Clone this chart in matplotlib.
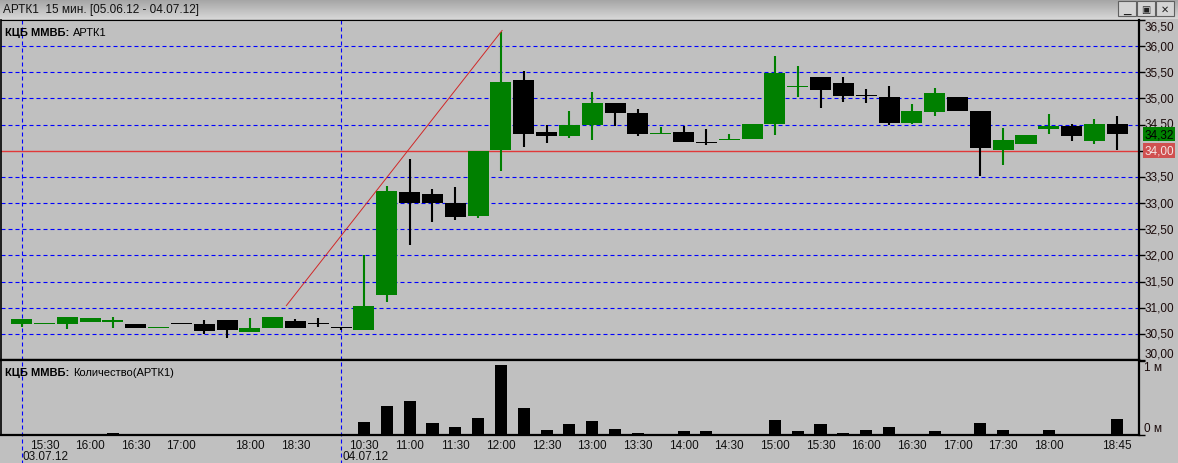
"""
QUIK-style 15 min candlestick chart for APTK1 with volume panel.
"""

import numpy as np
import matplotlib
matplotlib.use("Agg")
import matplotlib.pyplot as plt
from matplotlib.patches import Rectangle

plt.rcParams["font.family"] = ["Liberation Sans", "DejaVu Sans"]

W, H = 1178, 464
BG = "#c0c0c0"
UP = "#008000"
DOWN = "#000000"
GRID = "#0000ff"

# candle data (one bar per 15 min, sessions without trades skipped)
opens = [30.68, 30.69, 30.68, 30.72, 30.72, 30.69, 30.61, 30.685, 30.68, 30.77,
         30.53, 30.62, 30.75, 30.695, 30.615, 30.57, 31.24, 33.22, 33.18, 33.01,
         32.76, 34.01, 35.35, 34.35, 34.28, 34.49, 34.91, 34.72, 34.33, 34.35,
         34.145, 34.21, 34.22, 34.51, 35.21, 35.41, 35.29, 35.045, 35.03, 34.53,
         34.74, 35.03, 34.76, 34.01, 34.12, 34.42, 34.47, 34.18, 34.51]
highs = [30.79, 30.715, 30.83, 30.81, 30.83, 30.69, 30.615, 30.685, 30.77, 30.77,
         30.81, 30.83, 30.79, 30.81, 30.615, 32.00, 33.33, 33.85, 33.26, 33.31,
         34.00, 36.28, 35.52, 34.50, 34.76, 35.12, 34.91, 34.79, 34.45, 34.47,
         34.41, 34.33, 34.51, 35.81, 35.62, 35.41, 35.41, 35.18, 35.24, 34.89,
         35.20, 35.03, 34.76, 34.43, 34.31, 34.70, 34.51, 34.60, 34.66]
lows = [30.64, 30.69, 30.60, 30.72, 30.62, 30.62, 30.61, 30.68, 30.50, 30.43,
        30.53, 30.62, 30.62, 30.64, 30.57, 30.57, 31.11, 32.19, 32.63, 32.67,
        32.72, 33.61, 34.07, 34.15, 34.24, 34.21, 34.47, 34.28, 34.33, 34.17,
        34.11, 34.21, 34.22, 34.31, 35.03, 34.81, 34.93, 34.91, 34.49, 34.51,
        34.66, 34.76, 33.51, 33.72, 34.12, 34.33, 34.18, 34.12, 34.01]
closes = [30.79, 30.70, 30.83, 30.81, 30.77, 30.62, 30.615, 30.68, 30.55, 30.57,
          30.62, 30.83, 30.62, 30.69, 30.61, 31.03, 33.24, 33.01, 33.01, 32.74,
          34.00, 35.31, 34.32, 34.29, 34.49, 34.91, 34.72, 34.32, 34.335, 34.17,
          34.14, 34.215, 34.51, 35.49, 35.215, 35.16, 35.04, 35.04, 34.53, 34.76,
          35.10, 34.76, 34.06, 34.20, 34.31, 34.47, 34.28, 34.51, 34.33]
# volume in millions
volumes = [0.003, 0.003, 0.014, 0.003, 0.027, 0.014, 0.003, 0.003, 0.014, 0.014,
           0.014, 0.003, 0.003, 0.003, 0.003, 0.18, 0.39, 0.46, 0.16, 0.11,
           0.23, 0.95, 0.36, 0.068, 0.15, 0.19, 0.08, 0.027, 0.005, 0.054,
           0.054, 0.005, 0.014, 0.20, 0.054, 0.15, 0.027, 0.068, 0.11, 0.005,
           0.054, 0.014, 0.16, 0.068, 0.014, 0.068, 0.014, 0.014, 0.22]

tick_pos = [1, 3, 5, 7, 10, 12, 15, 17, 19, 21, 23, 25, 27, 29, 31, 33, 35, 37,
            39, 41, 43, 45, 48]
tick_labels = ["15:30", "16:00", "16:30", "17:00", "18:00", "18:30", "10:30",
               "11:00", "11:30", "12:00", "12:30", "13:00", "13:30", "14:00",
               "14:30", "15:00", "15:30", "16:00", "16:30", "17:00", "17:30",
               "18:00", "18:45"]
day_starts = [0, 14]
day_labels = ["03.07.12", "04.07.12"]

price_levels = [30.0, 30.5, 31.0, 31.5, 32.0, 32.5, 33.0, 33.5, 34.0, 34.5,
                35.0, 35.5, 36.0, 36.5]
last_price = 34.32
ref_price = 34.00
trend_x = [11.6, 21.05]
trend_y = [31.04, 36.30]


def fig_rect(x0, y0, x1, y1):
    """Pixel box (top-left origin) -> figure fraction rect."""
    return [x0 / W, 1 - y1 / H, (x1 - x0) / W, (y1 - y0) / H]


def ru(v):
    return f"{v:.2f}".replace(".", ",")


fig = plt.figure(figsize=(W / 100, H / 100), dpi=100, facecolor=BG)

# window title bar
tb = fig.add_axes(fig_rect(0, 0, W, 20))
grad = np.linspace(0, 1, 20).reshape(-1, 1)
tb.imshow(grad, aspect="auto", cmap=matplotlib.colors.LinearSegmentedColormap.from_list(
    "tb", ["#a4a4a4", "#d6d6d6"]), extent=[0, W, 20, 0])
tb.set_xlim(0, W)
tb.set_ylim(20, 0)
tb.axis("off")
tb.text(3, 10.5, "АРТК1  15 мин. [05.06.12 - 04.07.12]", fontsize=8.5,
        va="center", ha="left", color="#101010")
for bx, glyph in zip([1118, 1137, 1156], ["▁", "▣", "✕"]):
    tb.add_patch(Rectangle((bx, 2), 18, 15, facecolor="#d4d4d4",
                           edgecolor="#606060", lw=0.8))
    tb.text(bx + 9, 10, glyph, fontsize=7, ha="center", va="center",
            family="DejaVu Sans", color="#202020")

x = np.arange(len(opens))
xlim = (-0.9, 48.95)

# price panel
ax = fig.add_axes(fig_rect(1, 21, 1139, 361))
ax.set_facecolor(BG)
ax.set_xlim(*xlim)
ax.set_ylim(30.0, 36.5)

dash = (0, (3.6, 2.7))
for lvl in price_levels[1:-1]:
    if lvl == ref_price:
        continue
    ax.axhline(lvl, color=GRID, lw=0.8, ls=dash, zorder=1)
ax.axhline(ref_price, color="#e03838", lw=1.0, zorder=1)

colors = [UP if c >= o else DOWN for o, c in zip(opens, closes)]
ax.vlines(x, lows, highs, colors=colors, lw=1.5, zorder=3)
bottoms = np.minimum(opens, closes)
heights = np.maximum(np.abs(np.array(closes) - np.array(opens)), 0.019)
ax.bar(x, heights, bottom=bottoms, width=0.92, color=colors, lw=0, zorder=4)

ax.plot(trend_x, trend_y, color="#d02828", lw=0.7, zorder=5)

ax.set_xticks([])
ax.set_yticks(price_levels)
ax.yaxis.tick_right()
ax.tick_params(axis="y", direction="out", length=4, width=1, color="#000000",
               labelright=False)
for s in ["left", "right", "bottom", "top"]:
    ax.spines[s].set_color("#000000")
ax.spines["right"].set_linewidth(1.6)
ax.spines["left"].set_linewidth(1.2)
ax.spines["bottom"].set_linewidth(1.6)
ax.spines["top"].set_linewidth(0.8)

ytr = ax.get_yaxis_transform()
for lvl in price_levels:
    pos = lvl
    if lvl == price_levels[-1]:
        pos = lvl - 0.13
    elif lvl == price_levels[0]:
        pos = lvl + 0.12
    elif lvl == 34.5:
        # partly hidden behind the last-price box, as in the terminal
        pos = lvl + 0.03
    ax.text(1.0045, pos, ru(lvl), transform=ytr, fontsize=8.5, va="center",
            ha="left", color="#1a0a0a", clip_on=False, zorder=2)

ax.text(1.0045, last_price, ru(last_price), transform=ytr,
        fontsize=8.5, va="center", ha="left", color="#000000", zorder=6,
        bbox=dict(boxstyle="square,pad=0.12", facecolor=UP, edgecolor="none"))
ax.text(1.0045, ref_price, ru(ref_price), transform=ytr,
        fontsize=8.5, va="center", ha="left", color="#f4e4e4", zorder=6,
        bbox=dict(boxstyle="square,pad=0.12", facecolor="#d05050", edgecolor="none"))

t1 = ax.annotate("КЦБ ММВБ:", xy=(0, 1), xycoords="axes fraction", xytext=(4, -12),
                 textcoords="offset pixels", fontsize=8, weight="bold",
                 va="center", ha="left")
ax.annotate("АРТК1", xy=(1, 0.5), xycoords=t1, xytext=(4, 0),
            textcoords="offset pixels", fontsize=8, va="center", ha="left")

# volume panel
ax2 = fig.add_axes(fig_rect(1, 361, 1139, 436))
ax2.set_facecolor(BG)
ax2.set_xlim(*xlim)
ax2.set_ylim(0, 75 / 74)
ax2.bar(x, volumes, width=0.53, color="#000000", lw=0, zorder=3)
ax2.set_yticks([0, 1])
ax2.yaxis.tick_right()
ax2.tick_params(axis="y", direction="out", length=4, width=1, labelright=False)
ax2.text(1.0045, 1.0, "1 м", transform=ax2.get_yaxis_transform(), fontsize=8.5,
         va="top", ha="left", color="#1a0a0a")
ax2.text(1.0045, 0.02, "0 м", transform=ax2.get_yaxis_transform(), fontsize=8.5,
         va="bottom", ha="left", color="#1a0a0a")
for s in ["left", "right", "bottom", "top"]:
    ax2.spines[s].set_color("#000000")
ax2.spines["right"].set_linewidth(1.6)
ax2.spines["left"].set_linewidth(1.2)
ax2.spines["bottom"].set_linewidth(1.6)
ax2.spines["top"].set_linewidth(1.6)

ax2.set_xticks(tick_pos)
ax2.set_xticklabels(tick_labels, fontsize=8.5, color="#101010")
ax2.tick_params(axis="x", length=0, pad=3)

t2 = ax2.annotate("КЦБ ММВБ:", xy=(0, 1), xycoords="axes fraction", xytext=(4, -12),
                  textcoords="offset pixels", fontsize=8, weight="bold",
                  va="center", ha="left")
ax2.annotate("Количество(АРТК1)", xy=(1, 0.5), xycoords=t2, xytext=(4, 0),
             textcoords="offset pixels", fontsize=8, va="center", ha="left")

# day separators
for d, lab in zip(day_starts, day_labels):
    ax.axvline(d, color=GRID, lw=0.8, ls=dash, zorder=2)
    ax2.axvline(d, ymin=-0.4, ymax=1, color=GRID, lw=0.8, ls=dash, zorder=2,
                clip_on=False)
    ax2.annotate(lab, xy=(d, 0), xycoords=("data", "axes fraction"),
                 xytext=(1, -21), textcoords="offset pixels", fontsize=8.5,
                 va="center", ha="left", color="#101010", annotation_clip=False)

fig.savefig("out.png", dpi=100, facecolor=BG)
